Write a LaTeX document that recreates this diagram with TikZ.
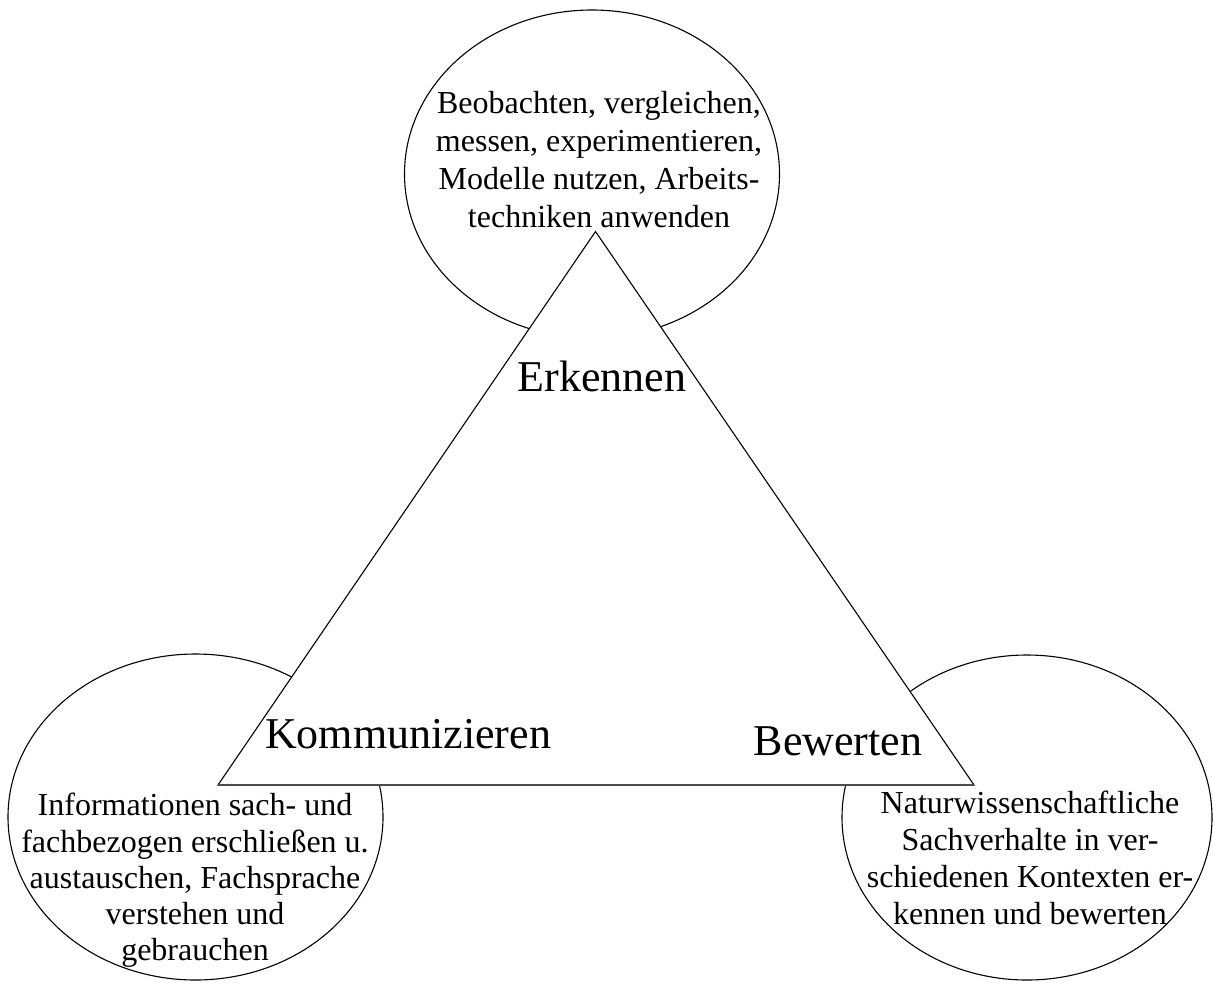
\documentclass[tikz,border=0pt]{standalone}
\usepackage{fontspec}
\setmainfont{Liberation Serif}
\usetikzlibrary{shapes.geometric}
\tikzset{
	field/.style={ellipse, draw=black, line width=1.1pt, inner sep=0pt},
	fieldtext/.style={anchor=north, inner sep=0pt, align=center, font=\fontsize{32}{37}\selectfont},
	area/.style={anchor=base, inner sep=0pt, font=\fontsize{44}{50}\selectfont}
}

\begin{document}
\begin{tikzpicture}[x=1pt, y=-1pt]
	\useasboundingbox (0,0) rectangle (1213,983);
	
	% circles
	\node[field, minimum width=375pt, minimum height=328pt] (obs) at (592,174) {};
	\node[field, minimum width=375pt, minimum height=326pt] (com) at (195.5,817) {};
	\node[field, minimum width=370pt, minimum height=325pt] (eva) at (1027,817.5) {};
	
	% triangle
	\coordinate (apex) at (595.5,231.5);
	\coordinate (lcorner) at (218,785);
	\coordinate (rcorner) at (974,785);
	\filldraw[fill=white, draw=black, line width=1.1pt] (apex) -- (lcorner) -- (rcorner) -- cycle;
	\draw[line width=2.4pt, draw=black!70] (lcorner) -- (rcorner);
	
	% corners
	\node[area] (erk) at (602,391) {Erkennen};
	\node[area] (kom) at (408,748) {Kommunizieren};
	\node[area] (bew) at (838,755) {Bewerten};
	
	% top
	\node[fieldtext, font=\fontsize{32}{38}\selectfont] (obstext) at (599,91)
	{Beobachten, vergleichen,\\ messen, experimentieren,\\ Modelle nutzen, Arbeits-\\ techniken anwenden};
	
	% bottom left
	\node[fieldtext, font=\fontsize{32}{36.3}\selectfont] (comtext) at (195,793)
	{Informationen sach- und\\ fachbezogen erschließen u.\\ austauschen, Fachsprache\\ verstehen und\\ gebrauchen};
	
	% bottom right
	\node[fieldtext] (evatext) at (1030,791)
	{Naturwissenschaftliche\\ Sachverhalte in ver-\\ schiedenen Kontexten er-\\ kennen und bewerten};
\end{tikzpicture}
\end{document}
